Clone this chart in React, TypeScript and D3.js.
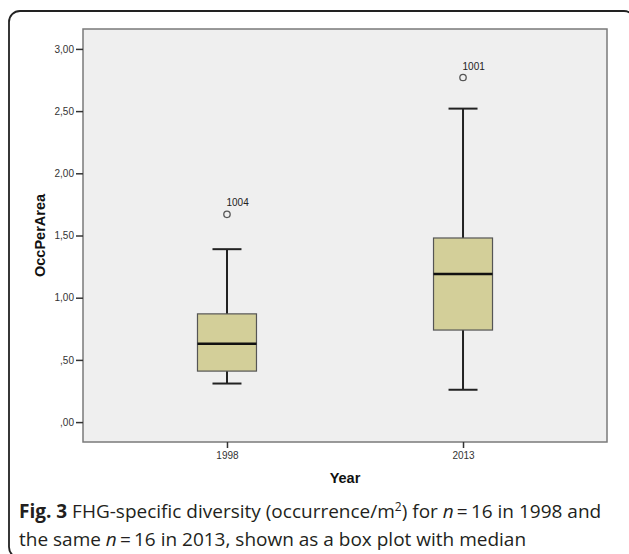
import React, { useRef, useEffect } from 'react'
import * as d3 from 'd3'

// box plot statistics
const years = ['1998', '2013']
const q1 = [0.41, 0.74]
const medians = [0.63, 1.19]
const q3 = [0.87, 1.48]
const whiskerLow = [0.31, 0.26]
const whiskerHigh = [1.39, 2.52]
const outlierValues = [1.67, 2.77]
const outlierIds = ['1004', '1001']
const yTicks = [0, 0.5, 1, 1.5, 2, 2.5, 3]

const W = 629
const H = 554

const App = () => {
    const svgRef = useRef<SVGSVGElement>(null)

    useEffect(() => {
        const svg = d3.select(svgRef.current)
        svg.selectAll('*').remove()

        const margin = { top: 29, right: 22, bottom: 112, left: 83 }
        const plotW = W - margin.left - margin.right
        const plotH = H - margin.top - margin.bottom

        const x = d3
            .scalePoint()
            .domain(years)
            .range([margin.left, margin.left + plotW])
            .padding(0.61)

        const y = d3
            .scaleLinear()
            .domain([-0.16, 3.16])
            .range([margin.top + plotH, margin.top])

        const fmt = (v: number) => d3.format('.2f')(v).replace('.', ',').replace(/^0/, '')
        const sans = '"Liberation Sans", Arial, sans-serif'

        //outer rounded frame
        svg.append('rect')
            .attr('x', 9)
            .attr('y', 11)
            .attr('width', 626)
            .attr('height', 547)
            .attr('rx', 11)
            .attr('fill', 'none')
            .attr('stroke', '#222')
            .attr('stroke-width', 1.8)

        //plot background
        svg.append('rect')
            .attr('x', margin.left)
            .attr('y', margin.top)
            .attr('width', plotW)
            .attr('height', plotH)
            .attr('fill', '#efefef')
            .attr('stroke', '#7a7a7a')
            .attr('stroke-width', 1.5)

        //y axis
        const yAxis = svg
            .append('g')
            .attr('transform', `translate(${margin.left}, 0)`)
            .call(d3.axisLeft(y).tickValues(yTicks).tickSize(7).tickPadding(2).tickFormat((d) => fmt(+d)))
        yAxis.select('.domain').remove()
        yAxis.selectAll('line').attr('stroke', '#333').attr('stroke-width', 1.5)
        yAxis.selectAll('text')
            .attr('fill', '#333')
            .style('font-family', sans)
            .style('font-size', '10px')

        //x axis
        const xAxis = svg
            .append('g')
            .attr('transform', `translate(0, ${margin.top + plotH})`)
            .call(d3.axisBottom(x).tickSize(6).tickPadding(4))
        xAxis.select('.domain').remove()
        xAxis.selectAll('line').attr('stroke', '#333').attr('stroke-width', 1.5)
        xAxis.selectAll('text')
            .attr('fill', '#333')
            .style('font-family', sans)
            .style('font-size', '10px')

        //axis titles
        svg.append('text')
            .attr('x', margin.left + plotW / 2)
            .attr('y', 483)
            .attr('text-anchor', 'middle')
            .style('font-family', sans)
            .style('font-size', '14.5px')
            .style('font-weight', 'bold')
            .attr('fill', '#111')
            .text('Year')

        svg.append('text')
            .attr('transform', `translate(45, ${margin.top + plotH / 2}) rotate(-90)`)
            .attr('text-anchor', 'middle')
            .style('font-family', sans)
            .style('font-size', '14.5px')
            .style('font-weight', 'bold')
            .attr('fill', '#111')
            .text('OccPerArea')

        const boxW = 59
        const capW = 29

        years.forEach((yr, i) => {
            const cx = x(yr) as number
            const g = svg.append('g')

            //whisker stem
            g.append('line')
                .attr('x1', cx).attr('x2', cx)
                .attr('y1', y(whiskerLow[i])).attr('y2', y(whiskerHigh[i]))
                .attr('stroke', '#222').attr('stroke-width', 2)

            //caps
            ;[whiskerLow[i], whiskerHigh[i]].forEach((v) => {
                g.append('line')
                    .attr('x1', cx - capW / 2).attr('x2', cx + capW / 2)
                    .attr('y1', y(v)).attr('y2', y(v))
                    .attr('stroke', '#222').attr('stroke-width', 2)
            })

            //box
            g.append('rect')
                .attr('x', cx - boxW / 2)
                .attr('y', y(q3[i]))
                .attr('width', boxW)
                .attr('height', y(q1[i]) - y(q3[i]))
                .attr('fill', '#d3cf99')
                .attr('stroke', '#555')
                .attr('stroke-width', 1.2)

            //median
            g.append('line')
                .attr('x1', cx - boxW / 2).attr('x2', cx + boxW / 2)
                .attr('y1', y(medians[i])).attr('y2', y(medians[i]))
                .attr('stroke', '#111').attr('stroke-width', 2.5)

            //outlier
            g.append('circle')
                .attr('cx', cx)
                .attr('cy', y(outlierValues[i]))
                .attr('r', 3.2)
                .attr('fill', 'none')
                .attr('stroke', '#555')
                .attr('stroke-width', 1.3)

            g.append('text')
                .attr('x', cx - 0.5)
                .attr('y', y(outlierValues[i]) - 8)
                .style('font-family', sans)
                .style('font-size', '10px')
                .attr('fill', '#222')
                .text(outlierIds[i])
        })

        //caption
        const cap = svg.append('g')
            .style('font-family', '"Open Sans", sans-serif')
            .style('font-size', '19px')
            .attr('fill', '#231f20')

        const l1 = cap.append('text').attr('x', 19).attr('y', 518)
        l1.append('tspan').style('font-weight', 'bold').text('Fig. 3')
        l1.append('tspan').text(' FHG-specific diversity (occurrence/m')
        l1.append('tspan').attr('dy', -7).style('font-size', '12px').text('2')
        l1.append('tspan').attr('dy', 7).text(') for ')
        l1.append('tspan').style('font-style', 'italic').text('n')
        l1.append('tspan').text('\u2009=\u200916 in 1998 and')

        const l2 = cap.append('text').attr('x', 19).attr('y', 546)
        l2.append('tspan').text('the same ')
        l2.append('tspan').style('font-style', 'italic').text('n')
        l2.append('tspan').text('\u2009=\u200916 in 2013, shown as a box plot with median')
    }, [])

    return (
        <svg
            ref={svgRef}
            width={W}
            height={H}
            style={{ position: 'absolute', left: 0, top: 0, background: '#fff' }}
        />
    )
}

export default App
